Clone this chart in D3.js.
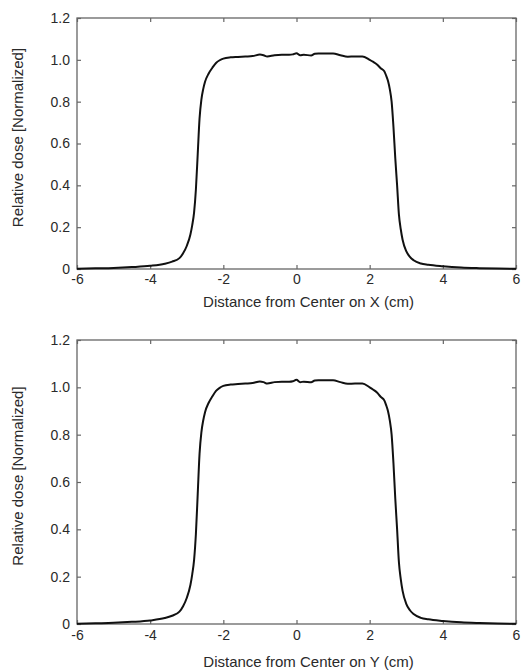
<!DOCTYPE html>
<html>
<head>
<meta charset="utf-8">
<script src="https://cdn.jsdelivr.net/npm/d3@7"></script>
<style>
    body { margin: 0; background: #fff; }
    svg { display: block; font-family: Arial, "Liberation Sans", sans-serif; }
</style>
</head>
<body>
<div id="chart"></div>
<script>
// distance from center (cm)
const positions = [-6, -5.5, -5, -4.5, -4, -3.6, -3.4, -3.2, -3.1, -3.0, -2.9, -2.85, -2.8, -2.75, -2.7, -2.65, -2.6, -2.55, -2.5, -2.4, -2.3, -2.2, -2.1, -2.0,
    -1.8, -1.6, -1.4, -1.2, -1.0, -0.9, -0.8, -0.6, -0.4, -0.2, -0.1, 0, 0.1, 0.2, 0.4, 0.5, 0.6, 0.8, 1.0, 1.2, 1.4, 1.6, 1.8,
    2.0, 2.1, 2.2, 2.3, 2.4, 2.45, 2.5, 2.55, 2.6, 2.65, 2.7, 2.75, 2.8, 2.85, 2.9, 3.0, 3.1, 3.2, 3.4, 3.6, 4.0, 4.5, 5.0, 5.5, 6.0];

// relative dose along X
const doseX = [0.001, 0.003, 0.005, 0.009, 0.015, 0.025, 0.035, 0.052, 0.075, 0.11, 0.165, 0.21, 0.27, 0.38, 0.55, 0.72, 0.81, 0.86, 0.895, 0.935, 0.962, 0.985, 0.998, 1.006,
    1.012, 1.014, 1.016, 1.018, 1.025, 1.022, 1.016, 1.022, 1.024, 1.024, 1.026, 1.032, 1.022, 1.024, 1.021, 1.029, 1.03, 1.03, 1.03, 1.022, 1.015, 1.016, 1.016,
    1.0, 0.99, 0.978, 0.96, 0.945, 0.925, 0.9, 0.86, 0.8, 0.68, 0.53, 0.4, 0.26, 0.19, 0.14, 0.085, 0.058, 0.042, 0.026, 0.02, 0.013, 0.007, 0.004, 0.002, 0.001];

// relative dose along Y
const doseY = [0.001, 0.003, 0.005, 0.009, 0.015, 0.025, 0.035, 0.052, 0.075, 0.11, 0.165, 0.21, 0.27, 0.38, 0.55, 0.72, 0.81, 0.86, 0.895, 0.935, 0.962, 0.985, 0.998, 1.006,
    1.012, 1.014, 1.016, 1.018, 1.025, 1.022, 1.016, 1.022, 1.024, 1.024, 1.026, 1.032, 1.022, 1.024, 1.021, 1.029, 1.03, 1.03, 1.03, 1.022, 1.015, 1.016, 1.016,
    1.0, 0.99, 0.978, 0.96, 0.945, 0.925, 0.9, 0.86, 0.8, 0.68, 0.53, 0.4, 0.26, 0.19, 0.14, 0.085, 0.058, 0.042, 0.026, 0.02, 0.013, 0.007, 0.004, 0.002, 0.001];

const xTicks = [-6, -4, -2, 0, 2, 4, 6];
const yTicks = [0, 0.2, 0.4, 0.6, 0.8, 1.0, 1.2];

const width = 528, height = 672;
const textColor = "#2a2a2a";
const frameColor = "#666";

const svg = d3.select("#chart")
    .append("svg")
    .attr("width", width)
    .attr("height", height);

// panel boxes (top, bottom)
const panels = [
    { dose: doseX, title: "Distance from Center on X (cm)", left: 77, top: 18, w: 439, h: 251, pad: 5, titleY: 38 },
    { dose: doseY, title: "Distance from Center on Y (cm)", left: 77, top: 340, w: 439, h: 284, pad: 6, titleY: 43 }
];

panels.forEach(p => drawPanel(p));

function drawPanel(p) {
    const g = svg.append("g").attr("transform", `translate(${p.left},${p.top})`);

    const x = d3.scaleLinear().domain([-6, 6]).range([0, p.w]);
    const y = d3.scaleLinear().domain([0, 1.2]).range([p.h, 0]);

    // bottom axis, ticks inward
    const xAxis = g.append("g")
        .attr("transform", `translate(0,${p.h})`)
        .call(d3.axisBottom(x).tickValues(xTicks).tickSize(-4).tickPadding(p.pad).tickFormat(d => String(d)));
    // top axis, ticks only
    const xTop = g.append("g")
        .call(d3.axisTop(x).tickValues(xTicks).tickSize(-4).tickFormat(""));

    const yAxis = g.append("g")
        .call(d3.axisLeft(y).tickValues(yTicks).tickSize(-4).tickPadding(7)
            .tickFormat(d => d === 0 ? "0" : d3.format(".1f")(d)));
    const yRight = g.append("g")
        .attr("transform", `translate(${p.w},0)`)
        .call(d3.axisRight(y).tickValues(yTicks).tickSize(-4).tickFormat(""));

    [xAxis, xTop, yAxis, yRight].forEach(a => {
        a.select(".domain").remove();
        a.selectAll("line").attr("stroke", frameColor).attr("stroke-width", 1.2);
        a.selectAll("text").attr("fill", textColor).attr("font-size", "14px")
            .attr("font-family", "Arial, 'Liberation Sans', sans-serif");
    });

    // frame
    g.append("rect")
        .attr("width", p.w)
        .attr("height", p.h)
        .attr("fill", "none")
        .attr("stroke", frameColor)
        .attr("stroke-width", 1.3);

    const line = d3.line()
        .x((d, i) => x(positions[i]))
        .y(d => y(d))
        .curve(d3.curveMonotoneX);

    g.append("path")
        .datum(p.dose)
        .attr("d", line)
        .attr("fill", "none")
        .attr("stroke", "#111")
        .attr("stroke-width", 2);

    // axis titles (x title sits a little right of plot centre in the original)
    g.append("text")
        .attr("x", p.w / 2 + 12)
        .attr("y", p.h + p.titleY)
        .attr("text-anchor", "middle")
        .attr("font-size", "15px")
        .attr("fill", textColor)
        .text(p.title);

    g.append("text")
        .attr("transform", `translate(${18 - p.left + 5},${p.h / 2 - 6}) rotate(-90)`)
        .attr("text-anchor", "middle")
        .attr("font-size", "15px")
        .attr("fill", textColor)
        .text("Relative dose [Normalized]");
}
</script>
</body>
</html>
